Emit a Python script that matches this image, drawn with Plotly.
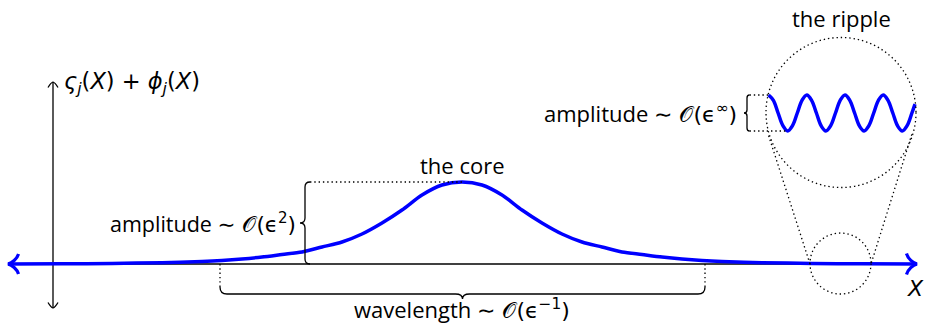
import plotly.graph_objects as go

# ---- data (heights above the X axis, in diagram units) ----
core_x = [8, 62, 112, 162, 202, 222, 242, 262, 282, 302, 322, 342, 362, 382, 402, 422, 442,
          462,
          482, 502, 522, 542, 562, 582, 602, 622, 642, 662, 682, 702, 722, 762, 812, 862, 917]
core_h = [0, 0.2, 0.6, 1.3, 2.5, 3.5, 5, 7, 9.5, 12, 17, 22, 30, 41, 54, 69, 79,
          82,
          79, 69, 54, 41, 30, 22, 17, 12, 9.5, 7, 5, 3.5, 2.5, 1.3, 0.6, 0.2, 0]

ripple_x = [768.6, 773.4, 778.1, 782.9, 787.7, 792.5, 797.3, 802.0,
            806.8, 811.6, 816.4, 821.1, 825.9, 830.7, 835.5, 840.2,
            845.0, 849.8, 854.6, 859.3, 864.1, 868.9, 873.7, 878.4,
            883.2, 888.0, 892.8, 897.5, 902.3, 907.1, 911.9, 915.0]
ripple_h = [169, 163.7, 151, 138.3, 133, 138.3, 151, 163.7,
            169, 163.7, 151, 138.3, 133, 138.3, 151, 163.7,
            169, 163.7, 151, 138.3, 133, 138.3, 151, 163.7,
            169, 163.7, 151, 138.3, 133, 138.3, 151, 159.9]

wave_start, wave_end = 220, 705   # wavelength brace extent

FONT = "Open Sans"
MATH = "DejaVu Sans"
FS = 22
BLUE = "#0000FF"
DOT = "1.4px,2.9px"

peak_i = core_h.index(max(core_h))
peak_x, peak_h = core_x[peak_i], core_h[peak_i]
rip_top, rip_bot = max(ripple_h), min(ripple_h)
rip_mid = (rip_top + rip_bot) / 2


def vbrace(xs, y0, y1, e, t, c):
    ym = (y0 + y1) / 2
    xe, xt = xs + e, xs - t
    return (f"M {xe},{y0} Q {xs},{y0} {xs},{y0 + c} L {xs},{ym - c} "
            f"Q {xs},{ym} {xt},{ym} Q {xs},{ym} {xs},{ym + c} "
            f"L {xs},{y1 - c} Q {xs},{y1} {xe},{y1}")


def hbrace(ys, x0, x1, e, t, c):
    xm = (x0 + x1) / 2
    ye, yt = ys + e, ys - t
    return (f"M {x0},{ye} Q {x0},{ys} {x0 + c},{ys} L {xm - c},{ys} "
            f"Q {xm},{ys} {xm},{yt} Q {xm},{ys} {xm + c},{ys} "
            f"L {x1 - c},{ys} Q {x1},{ys} {x1},{ye}")


fig = go.Figure()
fig.add_trace(go.Scatter(x=core_x, y=core_h, mode="lines",
                         line=dict(color=BLUE, width=3.5, shape="spline", smoothing=0.8),
                         hoverinfo="skip"))
fig.add_trace(go.Scatter(x=ripple_x, y=ripple_h, mode="lines",
                         line=dict(color=BLUE, width=3.5, shape="spline", smoothing=1.0),
                         hoverinfo="skip"))

shapes = []
blk = dict(color="black", width=1.3)
dot = dict(color="black", width=1.3, dash=DOT)
# axes
shapes.append(dict(type="line", x0=8, y0=0, x1=912, y1=0, line=blk, layer="below"))
shapes.append(dict(type="line", x0=53, y0=-44, x1=53, y1=182, line=blk, layer="below"))
shapes.append(dict(type="path", path="M 48,176.5 C 49.5,179 51.5,181.5 53,182 C 54.5,181.5 56.5,179 58,176.5",
                   line=blk))
shapes.append(dict(type="path", path="M 48,-38.5 C 49.5,-41 51.5,-43.5 53,-44 C 54.5,-43.5 56.5,-41 58,-38.5",
                   line=blk))
# blue arrow heads
bl = dict(color=BLUE, width=3.2)
shapes.append(dict(type="path", path="M 18.5,10 C 17,5 12,1 8,0 C 12,-1 17,-5 18.5,-10", line=bl))
shapes.append(dict(type="path", path="M 906.5,10.5 C 908,5 913,1 917,0 C 913,-1 908,-5 906.5,-10.5", line=bl))
# core amplitude brace
shapes.append(dict(type="path", path=vbrace(305, 0, peak_h, 5, 5, 5), line=blk))
shapes.append(dict(type="line", x0=310, y0=peak_h, x1=peak_x, y1=peak_h, line=dot))
# wavelength brace
shapes.append(dict(type="path", path=hbrace(-30, wave_start, wave_end, 7, 5, 7), line=blk))
shapes.append(dict(type="line", x0=wave_start, y0=0, x1=wave_start, y1=-23, line=dot))
shapes.append(dict(type="line", x0=wave_end, y0=0, x1=wave_end, y1=-23, line=dot))
# ripple amplitude brace
shapes.append(dict(type="path", path=vbrace(747, rip_bot, rip_top, 2.5, 3, 3), line=blk))
shapes.append(dict(type="line", x0=749.5, y0=rip_top, x1=ripple_x[0], y1=rip_top, line=dot))
shapes.append(dict(type="line", x0=749.5, y0=rip_bot, x1=ripple_x[4], y1=rip_bot, line=dot))
# spy circles and connecting lines
shapes.append(dict(type="circle", x0=766, y0=76.5, x1=916, y1=226.5, line=dot))
shapes.append(dict(type="circle", x0=810, y0=-30, x1=871, y1=31, line=dot))
shapes.append(dict(type="line", x0=768.6, y0=128.4, x1=810, y1=0, line=dot))
shapes.append(dict(type="line", x0=911.8, y0=129.6, x1=871, y1=0, line=dot))

ann = []


def txt(x, y, s, xa="center", ya="middle", size=FS):
    ann.append(dict(x=x, y=y, text=s, showarrow=False, xanchor=xa, yanchor=ya,
                    font=dict(family=FONT, size=size, color="black")))


def m(s):
    return f"<span style='font-family:{MATH}'>{s}</span>"


O = "𝒪"
txt(62, 264 - 83,
    m("<i>ς<sub>j</sub></i>(<i>X</i>) + <i>ϕ<sub>j</sub></i>(<i>X</i>)"), xa="left", size=22.5)
txt(298, 264 - 223, "amplitude " + m(f"∼ {O}(ϵ<sup>2</sup>)"), xa="right", size=21.5)
txt(peak_x, 264 - 165, "the core")
txt(462, 264 - 309, "wavelength " + m(f"∼ {O}(ϵ<sup>−1</sup>)"))
txt(739, rip_mid, "amplitude " + m(f"∼ {O}(ϵ<sup>∞</sup>)"), xa="right")
txt(841, 264 - 18, "the ripple")
txt(915.5, 264 - 288, m("<i>X</i>"))

fig.update_layout(
    width=925, height=323, margin=dict(l=0, r=0, t=0, b=0),
    paper_bgcolor="white", plot_bgcolor="white", showlegend=False,
    xaxis=dict(range=[0, 925], visible=False, fixedrange=True),
    yaxis=dict(range=[-59, 264], visible=False, fixedrange=True),
    shapes=shapes, annotations=ann, hovermode=False,
)
fig.write_html("out.html", config=dict(displayModeBar=False, staticPlot=True),
               post_script="document.body.style.margin='0px';")
